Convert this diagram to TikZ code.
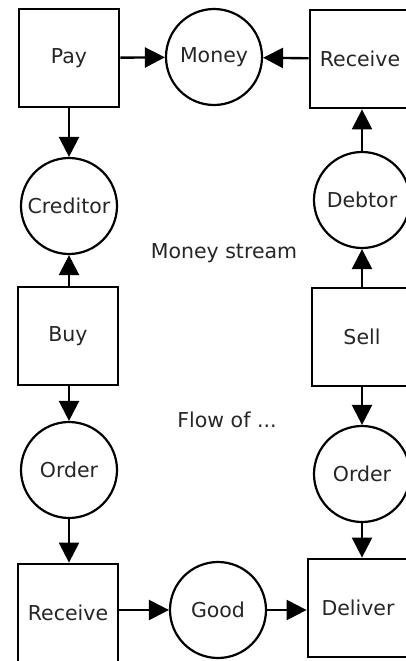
\documentclass[tikz,border=0pt]{standalone}
\usepackage{fontspec}
\setmainfont{DejaVu Sans}
\usetikzlibrary{arrows.meta}
\begin{document}
\begin{tikzpicture}[x=1pt,y=-1pt,
  txt/.style={font=\fontsize{20.5}{24}\selectfont, text=black!85},
  stepbox/.style={txt, draw=black, line width=2.8pt, rectangle, minimum width=100pt, minimum height=98pt, inner sep=0pt},
  thing/.style={txt, draw=black, line width=2.2pt, circle, minimum size=96pt, inner sep=0pt},
  flow/.style={line width=2.4pt, -{Triangle[length=20pt,width=20pt]}},
  caption/.style={txt}]
  \clip (0,0) rectangle (406,661);
  \fill[white] (0,0) rectangle (406,661);

  % money stream: upper half
  \node[stepbox] (pay) at (69,58) {Pay};
  \node[thing] (money) at (214,57) {Money};
  \node[stepbox] (recvm) at (360,59) {Receive};
  \node[thing] (creditor) at (69,206) {Creditor};
  \node[thing] (debtor) at (362,200) {Debtor};
  \node[stepbox] (buy) at (68,336) {Buy};
  \node[stepbox] (sell) at (362,337) {Sell};

  % flow of goods: lower half
  \node[thing] (orderb) at (69,470) {Order};
  \node[thing] (orders) at (362,474) {Order};
  \node[stepbox] (recvg) at (68,613) {Receive};
  \node[thing] (good) at (218,610) {Good};
  \node[stepbox] (deliver) at (358,608) {Deliver};

  \node[caption] (mstream) at (224,253) {Money stream};
  \node[caption] (flowof) at (227,420) {Flow of ...};

  % connectors
  \draw[flow] (pay) -- (money);
  \draw[flow] (recvm) -- (money);
  \draw[flow] (pay.south -| creditor.north) -- (creditor.north);
  \draw[flow] (buy.north -| creditor.south) -- (creditor.south);
  \draw[flow] (debtor.north) -- (debtor.north |- recvm.south);
  \draw[flow] (sell.north) -- (debtor.south);
  \draw[flow] (buy.south -| orderb.north) -- (orderb.north);
  \draw[flow] (orderb.south) -- (orderb.south |- recvg.north);
  \draw[flow] (sell.south) -- (orders.north);
  \draw[flow] (orders.south) -- (orders.south |- deliver.north);
  \draw[flow] (recvg.east |- good.west) -- (good.west);
  \draw[flow] (good.east) -- (good.east -| deliver.west);
\end{tikzpicture}
\end{document}
